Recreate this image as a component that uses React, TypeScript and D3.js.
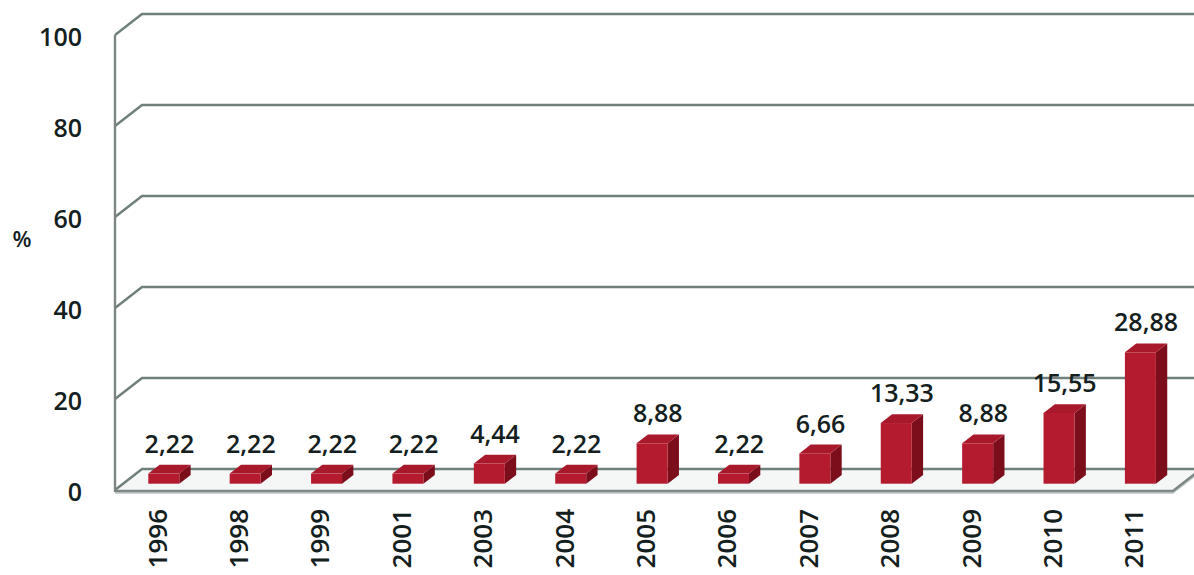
import { useRef, useEffect } from 'react';
import * as d3 from 'd3';

const years = ['1996', '1998', '1999', '2001', '2003', '2004', '2005', '2006', '2007', '2008', '2009', '2010', '2011'];
const values = [2.22, 2.22, 2.22, 2.22, 4.44, 2.22, 8.88, 2.22, 6.66, 13.33, 8.88, 15.55, 28.88];
const yTicks = [0, 20, 40, 60, 80, 100];

const W = 1194;
const H = 575;
const LEFT = 115;
const RIGHT = 1173;
const FLOOR_Y = 490;
const TOP_Y = 35;
// depth of the 3d box (front plane -> back wall)
const DX = 27;
const DY = -21;
const BAR_W = 31;
const BAR_FRONT = 0.3; // depth fraction where the bar's front face sits
const BAR_DEPTH = 0.42;

const GRID = '#6f7f7b';
const FONT = '"Open Sans", "DejaVu Sans", sans-serif';
const TEXT = '#142020';

function fmt(v: number) {
    return v.toFixed(2).replace('.', ',');
}

export default function App() {
    const svgRef = useRef<SVGSVGElement>(null);

    useEffect(() => {
        if (!svgRef.current) return;
        const svg = d3.select(svgRef.current);
        svg.selectAll('*').remove();

        const x = d3.scaleBand<string>().domain(years).range([LEFT, RIGHT]).padding(0);
        const y = d3.scaleLinear().domain([0, 100]).range([FLOOR_Y, TOP_Y]);

        const g = svg.append('g');

        // back wall gridlines + left wall diagonals
        yTicks.filter(t => t > 0).forEach(t => {
            const yf = y(t);
            g.append('path')
                .attr('d', `M${LEFT},${yf} L${LEFT + DX},${yf + DY} L${W + 10},${yf + DY}`)
                .attr('fill', 'none')
                .attr('stroke', GRID)
                .attr('stroke-width', 2.4)
                .attr('stroke-linejoin', 'round');
        });

        // floor slab
        const y0 = y(0);
        g.append('path')
            .attr('d', `M${LEFT},${y0} L${LEFT + DX},${y0 + DY} L${W + 10},${y0 + DY} L${RIGHT + DX},${y0 + DY} L${RIGHT},${y0} Z`)
            .attr('fill', '#f5f7f7');
        g.append('path')
            .attr('d', `M${LEFT},${y0} L${RIGHT},${y0} L${RIGHT + DX},${y0 + DY} L${RIGHT + DX},${y0 + DY + 4} L${RIGHT},${y0 + 4} L${LEFT},${y0 + 4} Z`)
            .attr('fill', '#c9cfcf');
        g.append('path')
            .attr('d', `M${LEFT},${y0} L${LEFT + DX},${y0 + DY} L${W + 10},${y0 + DY}`)
            .attr('fill', 'none')
            .attr('stroke', GRID)
            .attr('stroke-width', 2.4);
        g.append('path')
            .attr('d', `M${LEFT},${y0 + 1} L${RIGHT},${y0 + 1} L${RIGHT + DX},${y0 + DY + 1}`)
            .attr('fill', 'none')
            .attr('stroke', '#7d8886')
            .attr('stroke-width', 2.6);

        // front vertical axis
        g.append('line')
            .attr('x1', LEFT).attr('x2', LEFT)
            .attr('y1', y(100)).attr('y2', y0 + 2)
            .attr('stroke', '#7d8583')
            .attr('stroke-width', 2.4);

        // bars
        years.forEach((yr, i) => {
            const v = values[i];
            const cx = x(yr)! + x.bandwidth() / 2 + DX * BAR_FRONT;
            const fy = DY * BAR_FRONT;
            const x0 = cx - BAR_W / 2;
            const x1 = cx + BAR_W / 2;
            const yb = y(0) + fy;
            const yt = y(v) + fy;
            const ddx = DX * BAR_DEPTH;
            const ddy = DY * BAR_DEPTH;

            // side
            g.append('path')
                .attr('d', `M${x1},${yb} L${x1 + ddx},${yb + ddy} L${x1 + ddx},${yt + ddy} L${x1},${yt} Z`)
                .attr('fill', '#7c0e1b');
            // top
            g.append('path')
                .attr('d', `M${x0},${yt} L${x0 + ddx},${yt + ddy} L${x1 + ddx},${yt + ddy} L${x1},${yt} Z`)
                .attr('fill', '#a8192b');
            // front
            g.append('rect')
                .attr('x', x0)
                .attr('y', yt)
                .attr('width', BAR_W)
                .attr('height', yb - yt)
                .attr('fill', '#b41b2f');

            // value label
            g.append('text')
                .attr('x', cx + ddx / 2)
                .attr('y', yt + ddy - 12)
                .attr('text-anchor', 'middle')
                .attr('font-family', FONT)
                .attr('font-size', '25px')
                .attr('font-weight', 600)
                .attr('fill', TEXT)
                .text(fmt(v));

            // category label
            const lx = x(yr)! + x.bandwidth() / 2 + 2;
            g.append('text')
                .attr('transform', `translate(${lx + 9},${509}) rotate(-90)`)
                .attr('text-anchor', 'end')
                .attr('font-family', FONT)
                .attr('font-size', '26px')
                .attr('font-weight', 600)
                .attr('fill', TEXT)
                .text(yr);
        });

        // y tick labels
        yTicks.forEach(t => {
            g.append('text')
                .attr('x', 82)
                .attr('y', y(t) + 11)
                .attr('text-anchor', 'end')
                .attr('font-family', FONT)
                .attr('font-size', '25px')
                .attr('font-weight', 600)
                .attr('fill', TEXT)
                .text(t);
        });

        g.append('text')
            .attr('x', 22)
            .attr('y', 247)
            .attr('text-anchor', 'middle')
            .attr('font-family', FONT)
            .attr('font-size', '22px')
            .attr('font-weight', 600)
            .attr('fill', TEXT)
            .text('%');
    }, []);

    return (
        <svg
            ref={svgRef}
            width={W}
            height={H}
            style={{ position: 'absolute', left: 0, top: 0, background: '#fff', display: 'block' }}
        />
    );
}
